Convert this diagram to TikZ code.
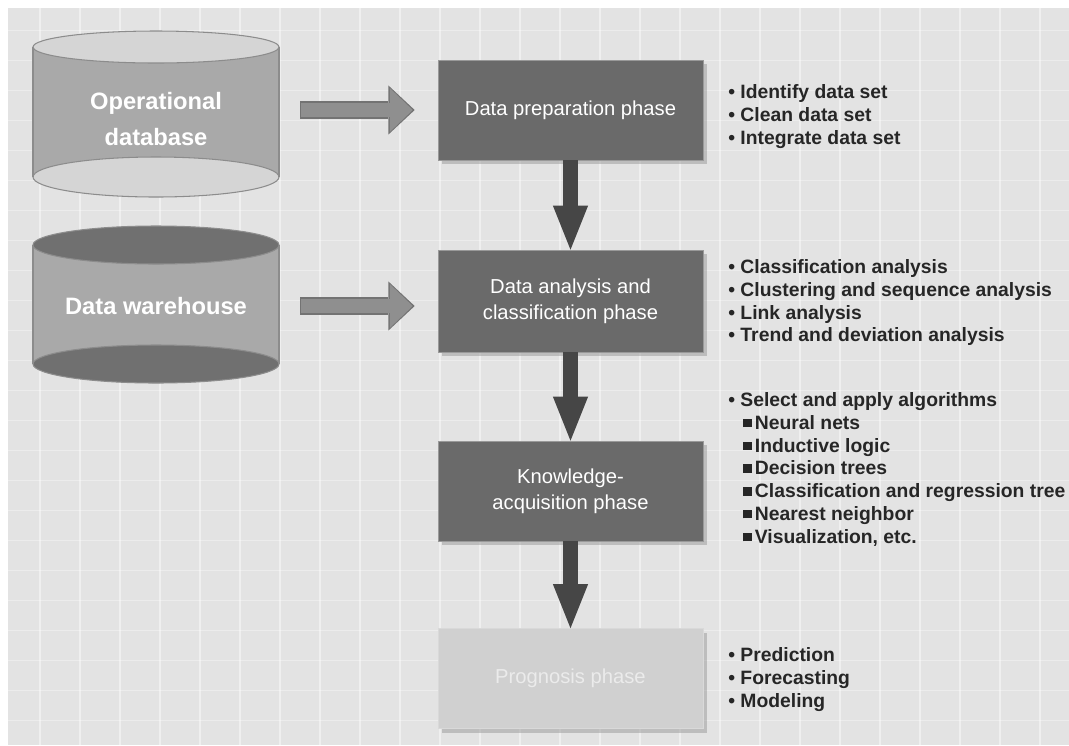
\documentclass[tikz,border=0pt]{standalone}
\usepackage{fontspec}
\setmainfont{Liberation Sans}
\usetikzlibrary{arrows.meta,shadows}

\definecolor{bggray}{HTML}{E3E3E3}
\definecolor{boxgray}{HTML}{6A6A6A}
\definecolor{lightbox}{HTML}{D0D0D0}
\definecolor{cylbody}{HTML}{A9A9A9}
\definecolor{cyllight}{HTML}{D5D5D5}
\definecolor{cyldark}{HTML}{707070}
\definecolor{arrowdark}{HTML}{464646}
\definecolor{arrowmid}{HTML}{8F8F8F}

\newcommand{\sqbul}{\rule[1.2pt]{4.8pt}{4.8pt}\,}

\tikzset{
  phase/.style={draw=black!40, fill=boxgray, text=white, minimum width=5.3cm,
    minimum height=2cm, align=center, font=\fontsize{11.5}{15}\selectfont,
    drop shadow={shadow xshift=2.5pt, shadow yshift=-2.5pt, fill=black!40, opacity=0.5}},
  items/.style={anchor=north west, align=left, inner sep=0pt,
    font=\bfseries\fontsize{11}{13}\selectfont, text=black!85},
  dbtext/.style={text=white, align=center, font=\bfseries\fontsize{13.5}{20}\selectfont,
    minimum width=4.92cm, inner sep=0pt},
  cylinder/.style={draw=black!45, line width=0.6pt},
  downarrow/.style={draw=arrowdark, line width=8.5pt,
    -{Triangle[width=20pt,length=25pt,line width=0pt]}},
  sidearrow/.style={line width=10pt, shorten <=0.42cm, shorten >=0.46cm}
}

\begin{document}
\begin{tikzpicture}[x=0.02cm, y=-0.02cm]
	\useasboundingbox (0,0) rectangle (1069,745);
	% background with grid
	\fill[white] (0,0) rectangle (1069,745);
	\fill[bggray] (8,8) rectangle (1069,745);
	\foreach \gx in {40,80,...,1060}
		\draw[white, line width=0.6pt, opacity=0.45] (\gx,8) -- (\gx,745);
	\foreach \gy in {30,60,...,740}
		\draw[white, line width=0.5pt, opacity=0.35] (8,\gy) -- (1069,\gy);

	% Operational database cylinder
	\fill[cylbody] (33,47) rectangle (279,177);
	\draw[cylinder, fill=cyllight] (156,177) ellipse [x radius=123, y radius=20];
	\draw[cylinder] (33,47) -- (33,177) (279,47) -- (279,177);
	\draw[cylinder, fill=cyllight] (156,47) ellipse [x radius=123, y radius=16];
	\node[dbtext] (opdb) at (156,119) {Operational\\database};

	% Data warehouse cylinder
	\fill[cylbody] (33,245) rectangle (279,364);
	\draw[cylinder, fill=cyldark] (156,364) ellipse [x radius=123, y radius=19];
	\draw[cylinder] (33,245) -- (33,364) (279,245) -- (279,364);
	\draw[cylinder, fill=cyldark] (156,245) ellipse [x radius=123, y radius=19];
	\node[dbtext] (dwh) at (156,306) {Data warehouse};

	% Phases
	\node[phase] (prep) at (570.5,110) {Data preparation phase};
	\node[phase, minimum height=2.04cm] (anal) at (570.5,301) {Data analysis and\\classification phase};
	\node[phase] (know) at (570.5,491) {Knowledge-\\acquisition phase};
	\node[phase, fill=lightbox, text=white!92!black, draw=black!15] (prog) at (570.5,678.5) {Prognosis phase};

	% Arrows into the phases
	\draw[sidearrow, draw=black!55, -{Triangle[width=28pt,length=15pt,line width=0pt]}]
		(opdb.east |- prep.west) -- (opdb.east |- prep.west -| prep.west);
	\draw[sidearrow, line width=8pt, draw=arrowmid, shorten <=0.44cm, shorten >=0.5cm,
		-{Triangle[width=25pt,length=13pt,line width=0pt]}]
		(opdb.east |- prep.west) -- (opdb.east |- prep.west -| prep.west);
	\draw[sidearrow, draw=black!55, -{Triangle[width=28pt,length=15pt,line width=0pt]}]
		(dwh.east) -- (dwh.east -| anal.west);
	\draw[sidearrow, line width=8pt, draw=arrowmid, shorten <=0.44cm, shorten >=0.5cm,
		-{Triangle[width=25pt,length=13pt,line width=0pt]}]
		(dwh.east) -- (dwh.east -| anal.west);

	% Arrows between the phases
	\draw[downarrow] (prep) -- (anal);
	\draw[downarrow] (anal) -- (know);
	\draw[downarrow] (know) -- (prog);

	% Lists
	\node[items] (prepitems) at (728,84) {\textbullet\ Identify data set\\
		\textbullet\ Clean data set\\
		\textbullet\ Integrate data set};
	\node[items] (analitems) at (728,259) {\textbullet\ Classification analysis\\
		\textbullet\ Clustering and sequence analysis\\
		\textbullet\ Link analysis\\
		\textbullet\ Trend and deviation analysis};
	\node[items] (knowitems) at (728,392) {\textbullet\ Select and apply algorithms\\
		\hspace*{8.5pt}\sqbul Neural nets\\
		\hspace*{8.5pt}\sqbul Inductive logic\\
		\hspace*{8.5pt}\sqbul Decision trees\\
		\hspace*{8.5pt}\sqbul Classification and regression tree\\
		\hspace*{8.5pt}\sqbul Nearest neighbor\\
		\hspace*{8.5pt}\sqbul Visualization, etc.};
	\node[items] (progitems) at (728,647) {\textbullet\ Prediction\\
		\textbullet\ Forecasting\\
		\textbullet\ Modeling};
\end{tikzpicture}
\end{document}
